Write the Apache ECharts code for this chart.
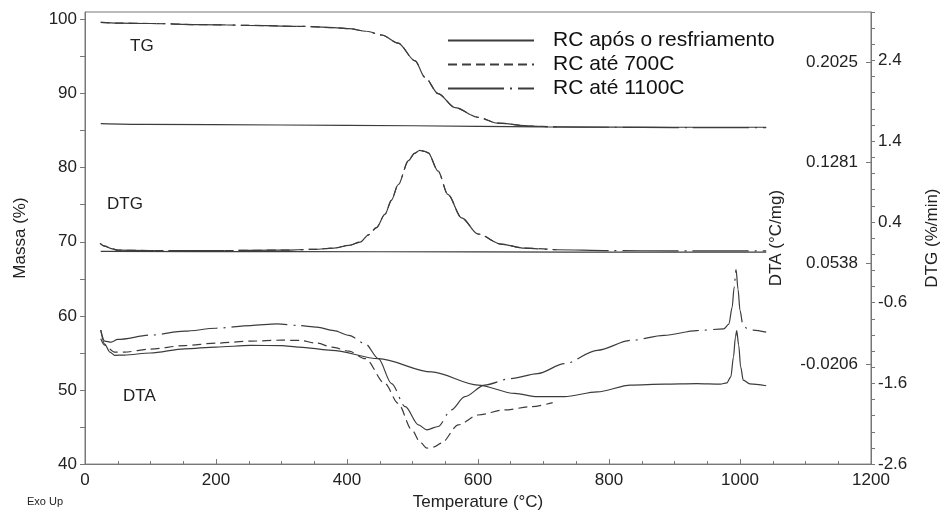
<!DOCTYPE html>
<html>
<head>
<meta charset="utf-8">
<script src="https://cdn.jsdelivr.net/npm/echarts@6/dist/echarts.min.js"></script>
<style>html,body{margin:0;padding:0;background:#fff}#chart{width:949px;height:516px}</style>
</head>
<body>
<div id="chart"></div>
<script>
// ---- series names ----
const sampleNames = ['RC após o resfriamento', 'RC até 700C', 'RC até 1100C'];

// ---- TG (Massa %) ----
const tgTempCooled = [24, 90, 300, 500, 700, 900, 1040];
const tgMassCooled = [85.95, 85.85, 85.75, 85.65, 85.5, 85.45, 85.45];
const tgTemp700 = [24, 50, 100, 175, 250, 327, 380, 403, 430, 453, 478, 504, 519, 539, 565, 600, 630, 681, 720];
const tgMass700 = [99.6, 99.5, 99.45, 99.3, 99.2, 99.07, 98.9, 98.75, 98.4, 97.9, 96.8, 94.4, 92.2, 90.0, 88.1, 86.8, 86.0, 85.6, 85.5];
const tgTemp1100 = [24, 50, 100, 175, 250, 327, 380, 403, 430, 453, 478, 504, 519, 539, 565, 600, 630, 681, 720, 800, 900, 1040];
const tgMass1100 = [99.6, 99.5, 99.45, 99.3, 99.2, 99.07, 98.9, 98.75, 98.4, 97.9, 96.8, 94.4, 92.2, 90.0, 88.1, 86.8, 86.0, 85.6, 85.5, 85.45, 85.4, 85.4];

// ---- DTG (%/min) ----
const dtgTempCooled = [24, 300, 600, 900, 1040];
const dtgCooled = [0.035, 0.032, 0.028, 0.025, 0.025];
const dtgTemp700 = [23, 30, 40, 50, 100, 200, 300, 350, 380, 403, 420, 433, 445, 458, 468, 478, 494, 503, 511, 518, 524, 539, 554, 575, 600, 635, 671, 720];
const dtg700 = [0.134, 0.10, 0.07, 0.05, 0.045, 0.045, 0.05, 0.06, 0.075, 0.11, 0.15, 0.24, 0.33, 0.495, 0.67, 0.86, 1.16, 1.25, 1.285, 1.275, 1.255, 1.03, 0.74, 0.45, 0.25, 0.125, 0.075, 0.055];
const dtgTemp1100 = [23, 30, 40, 50, 100, 200, 300, 350, 380, 403, 420, 433, 445, 458, 468, 478, 494, 503, 511, 518, 524, 539, 554, 575, 600, 635, 671, 720, 800, 900, 1040];
const dtg1100 = [0.134, 0.10, 0.07, 0.05, 0.045, 0.045, 0.05, 0.06, 0.075, 0.11, 0.15, 0.24, 0.33, 0.495, 0.67, 0.86, 1.16, 1.25, 1.285, 1.275, 1.255, 1.03, 0.74, 0.45, 0.25, 0.125, 0.075, 0.055, 0.045, 0.04, 0.04];

// ---- DTA (°C/mg) ----
const dtaTempCooled = [24, 30, 38, 45, 60, 100, 152, 200, 253, 300, 327, 377, 448, 529, 600, 656, 691, 732, 782, 833, 884, 934, 970, 980, 986, 990, 993, 995, 998, 1001, 1005, 1015, 1040];
const dtaCooled = [0.0044, -0.0059, -0.0118, -0.0142, -0.0140, -0.0125, -0.0094, -0.0081, -0.0069, -0.0070, -0.0081, -0.0105, -0.0167, -0.0265, -0.0362, -0.0424, -0.0448, -0.0448, -0.0412, -0.0362, -0.0355, -0.0351, -0.0355, -0.0346, -0.0301, -0.0155, -0.0008, 0.0041, -0.0067, -0.0228, -0.0326, -0.0353, -0.0367];
const dtaTemp700 = [24, 30, 45, 60, 100, 152, 200, 253, 300, 327, 354, 377, 403, 428, 458, 478, 499, 512, 522, 533, 544, 570, 600, 640, 681, 714];
const dta700 = [-0.0020, -0.0067, -0.0118, -0.0118, -0.0096, -0.0070, -0.0052, -0.0037, -0.0030, -0.0032, -0.0052, -0.0081, -0.0111, -0.0167, -0.0351, -0.0497, -0.0693, -0.0786, -0.0828, -0.0819, -0.0791, -0.0656, -0.0583, -0.0546, -0.0522, -0.0492];
const dtaTemp1100 = [24, 30, 40, 50, 100, 152, 200, 253, 293, 327, 354, 380, 403, 428, 448, 468, 489, 509, 522, 539, 559, 580, 610, 650, 691, 732, 782, 833, 884, 934, 975, 983, 988, 991, 994, 997, 1000, 1004, 1010, 1020, 1040];
const dta1100 = [0.0044, -0.0037, -0.0045, -0.0025, 0.0007, 0.0036, 0.0058, 0.0078, 0.0090, 0.0078, 0.0066, 0.0041, 0.0005, -0.0057, -0.0167, -0.0351, -0.0522, -0.0656, -0.0693, -0.0668, -0.0546, -0.0448, -0.0362, -0.0314, -0.0277, -0.0204, -0.0105, -0.0032, 0.0005, 0.0041, 0.0053, 0.0088, 0.0212, 0.0359, 0.0491, 0.0345, 0.0190, 0.0095, 0.0058, 0.0044, 0.0029];

// ---- tick labels ----
const xTickLabels = ['0', '200', '400', '600', '800', '1000', '1200'];
const massaTickLabels = ['40', '50', '60', '70', '80', '90', '100'];
const dtgTickLabels = ['-2.6', '-1.6', '-0.6', '0.4', '1.4', '2.4'];
const dtaTickLabels = ['-0.0206', '0.0538', '0.1281', '0.2025'];

// ---- build ----
const FONT = '"Liberation Sans", Arial, Helvetica, sans-serif';
const TXT = '#222';
const AXC = '#777';
const LINEC = '#3c3c3c';
const styles = [
  { type: 'solid' },
  { type: [9, 5] },
  { type: [56, 6, 2, 6] }
];
const zip = (xs, ys) => xs.map((x, i) => [x, ys[i]]);

function mk(nameIdx, yAxisIndex, xs, ys) {
  return {
    name: sampleNames[nameIdx],
    type: 'line',
    xAxisIndex: 0,
    yAxisIndex: yAxisIndex,
    data: zip(xs, ys),
    symbol: 'none',
    symbolSize: 0,
    showSymbol: false,
    smooth: 0.3,
    smoothMonotone: 'x',
    lineStyle: Object.assign({ color: LINEC, width: 1.2 }, styles[nameIdx]),
    itemStyle: { color: LINEC },
    z: 3
  };
}

const series = [
  mk(0, 0, tgTempCooled, tgMassCooled),
  mk(1, 0, tgTemp700, tgMass700),
  mk(2, 0, tgTemp1100, tgMass1100),
  mk(0, 1, dtgTempCooled, dtgCooled),
  mk(1, 1, dtgTemp700, dtg700),
  mk(2, 1, dtgTemp1100, dtg1100),
  mk(0, 2, dtaTempCooled, dtaCooled),
  mk(1, 2, dtaTemp700, dta700),
  mk(2, 2, dtaTemp1100, dta1100)
];

const massaTicks = [];
for (let v = 40; v <= 100; v += 5) massaTicks.push(v);

const option = {
  animation: false,
  backgroundColor: '#fff',
  textStyle: { fontFamily: FONT },
  grid: { left: 85, right: 74, top: 12, bottom: 48, show: true, borderColor: AXC, borderWidth: 1, backgroundColor: 'transparent' },
  legend: {
    data: sampleNames,
    orient: 'vertical',
    left: 442,
    top: 25,
    itemWidth: 86,
    itemHeight: 12,
    itemGap: 3,
    itemStyle: { opacity: 0 },
    textStyle: { fontFamily: FONT, fontSize: 21, color: '#111', padding: [0, 0, 0, 14] }
  },
  xAxis: {
    type: 'value',
    min: 0, max: 1200, interval: 200,
    name: 'Temperature (°C)',
    nameLocation: 'middle',
    nameGap: 28,
    nameTextStyle: { fontFamily: FONT, fontSize: 17, color: TXT },
    axisLine: { show: true, onZero: false, lineStyle: { color: AXC, width: 1 } },
    axisTick: { show: true, inside: true, length: 5, lineStyle: { color: AXC } },
    minorTick: { show: true, splitNumber: 4, length: 3, lineStyle: { color: AXC } },
    splitLine: { show: false },
    axisLabel: { fontFamily: FONT, fontSize: 17, color: TXT, margin: 8,
      formatter: (v) => { const i = Math.round(v / 200); return xTickLabels[i] || ''; } }
  },
  yAxis: [
    {
      type: 'value', position: 'left',
      min: 40, max: 101,
      name: 'Massa (%)', nameLocation: 'middle', nameRotate: 90, nameGap: 56,
      nameTextStyle: { fontFamily: FONT, fontSize: 17, color: TXT },
      axisLine: { show: true, onZero: false, lineStyle: { color: AXC } },
      axisTick: { show: true, length: 5, customValues: massaTicks, lineStyle: { color: AXC } },
      splitLine: { show: false },
      axisLabel: { fontFamily: FONT, fontSize: 17, color: TXT, margin: 8,
        customValues: massaTickLabels.map(Number),
        formatter: (v) => massaTickLabels.find(s => Math.abs(Number(s) - v) < 1e-6) || '' }
    },
    {
      type: 'value', position: 'right',
      min: -2.6, max: 3.0, interval: 0.2,
      name: 'DTG (%/min)', nameLocation: 'middle', nameRotate: 90, nameGap: 53,
      nameTextStyle: { fontFamily: FONT, fontSize: 17, color: TXT },
      axisLine: { show: true, onZero: false, lineStyle: { color: AXC } },
      axisTick: { show: true, length: 4, lineStyle: { color: AXC } },
      splitLine: { show: false },
      axisLabel: { fontFamily: FONT, fontSize: 17, color: TXT, margin: 7,
        customValues: dtgTickLabels.map(Number),
        formatter: (v) => dtgTickLabels.find(s => Math.abs(Number(s) - v) < 1e-6) || '' }
    },
    {
      type: 'value', position: 'right',
      min: -0.0946, max: 0.2395,
      name: 'DTA (°C/mg)', nameLocation: 'middle', nameRotate: 90, nameGap: -103,
      nameTextStyle: { fontFamily: FONT, fontSize: 17, color: TXT },
      axisLine: { show: false, onZero: false },
      axisTick: { show: true, inside: true, length: 5, customValues: dtaTickLabels.map(Number), lineStyle: { color: AXC } },
      splitLine: { show: false },
      axisLabel: { inside: true, fontFamily: FONT, fontSize: 17, color: TXT, margin: 13,
        customValues: dtaTickLabels.map(Number),
        formatter: (v) => dtaTickLabels.find(s => Math.abs(Number(s) - v) < 1e-6) || '' }
    }
  ],
  graphic: [
    { type: 'text', left: 130, top: 38, style: { text: 'TG', font: '17px ' + FONT, fill: TXT } },
    { type: 'text', left: 107, top: 196, style: { text: 'DTG', font: '17px ' + FONT, fill: TXT } },
    { type: 'text', left: 123, top: 388, style: { text: 'DTA', font: '17px ' + FONT, fill: TXT } },
    { type: 'text', left: 27, top: 496, style: { text: 'Exo Up', font: '11px ' + FONT, fill: TXT } }
  ],
  series: series
};

const chart = echarts.init(document.getElementById('chart'), null, { renderer: 'canvas' });
chart.setOption(option);
</script>
</body>
</html>
